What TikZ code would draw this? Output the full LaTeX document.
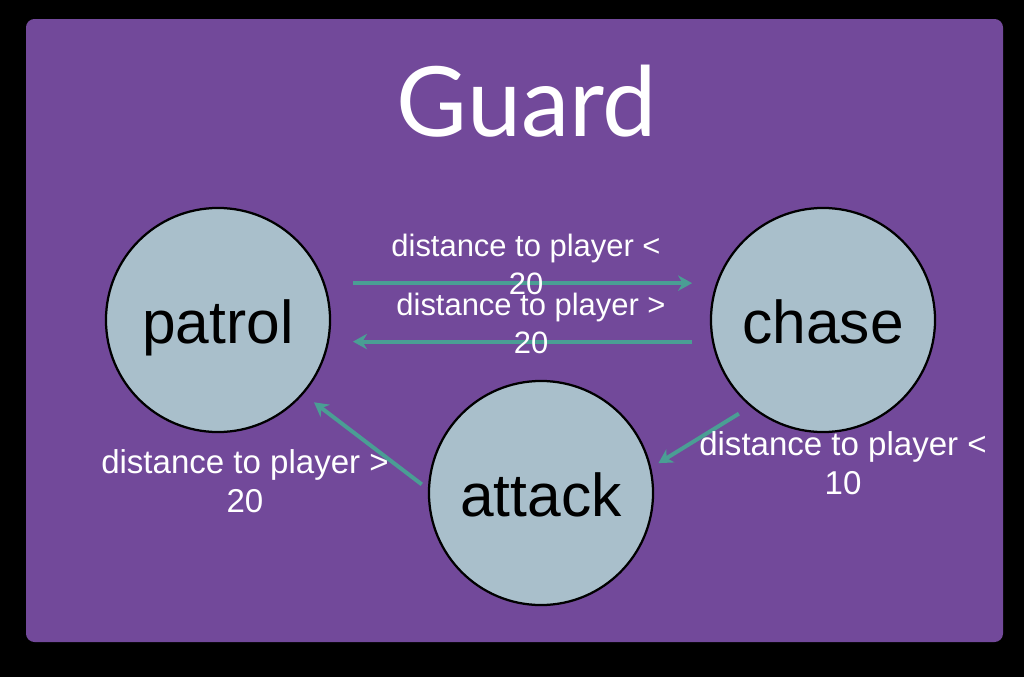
\documentclass[tikz,border=0pt]{standalone}
\usepackage{fontspec}
\setmainfont{Liberation Sans}
\newfontfamily\titlefont{Lato}
\usetikzlibrary{arrows.meta}
\definecolor{guardpurple}{HTML}{72499A}
\definecolor{arrowteal}{HTML}{4A9E94}
\definecolor{statefill}{HTML}{A9BFCB}
\begin{document}
\begin{tikzpicture}[x=0.025cm, y=-0.025cm]
        \tikzstyle{state}=[circle, draw=black, line width=1.6pt, fill=statefill, minimum size=5.6cm, inner sep=0pt, text height=41pt, text depth=8pt, font=\fontsize{43}{50}\selectfont]
        \tikzstyle{cond}=[text=white, align=center, inner sep=0pt, font=\fontsize{22}{27}\selectfont]
        \tikzstyle{trans}=[draw=arrowteal, line width=2.8pt, -{Stealth[length=10pt, width=11pt]}]
        \useasboundingbox (0,0) rectangle (1024,677);
        \fill[black] (0,0) rectangle (1024,677);
        \fill[guardpurple, rounded corners=6pt] (26,19) rectangle (1003,642);
        \node[text=white, font=\titlefont\fontsize{69}{80}\selectfont] (title) at (527,101) {Guard};
        \node[state] (patrol) at (218,320) {patrol};
        \node[state] (chase) at (823,320) {chase};
        \node[state] (attack) at (541,493) {attack};
        \draw[trans, shorten <=20pt, shorten >=17pt] (patrol.19) -- (chase.161);
        \draw[trans, shorten <=14pt, shorten >=17pt] (chase.191) -- (patrol.-11);
        \draw[trans, shorten <=9.5pt, shorten >=6pt] (chase.230) -- (attack.13);
        \draw[trans, shorten <=5.5pt, shorten >=9.5pt] (attack.178) -- (patrol.-41);
        \node[cond] (closer) at (526,264) {distance to player <\\20};
        \node[cond] (farther) at (531,323) {distance to player >\\20};
        \node[cond, font=\fontsize{23.5}{28}\selectfont] (escaped) at (245,481) {distance to player >\\20};
        \node[cond, font=\fontsize{23.5}{28}\selectfont] (inrange) at (843,463) {distance to player <\\10};
    \end{tikzpicture}
\end{document}
